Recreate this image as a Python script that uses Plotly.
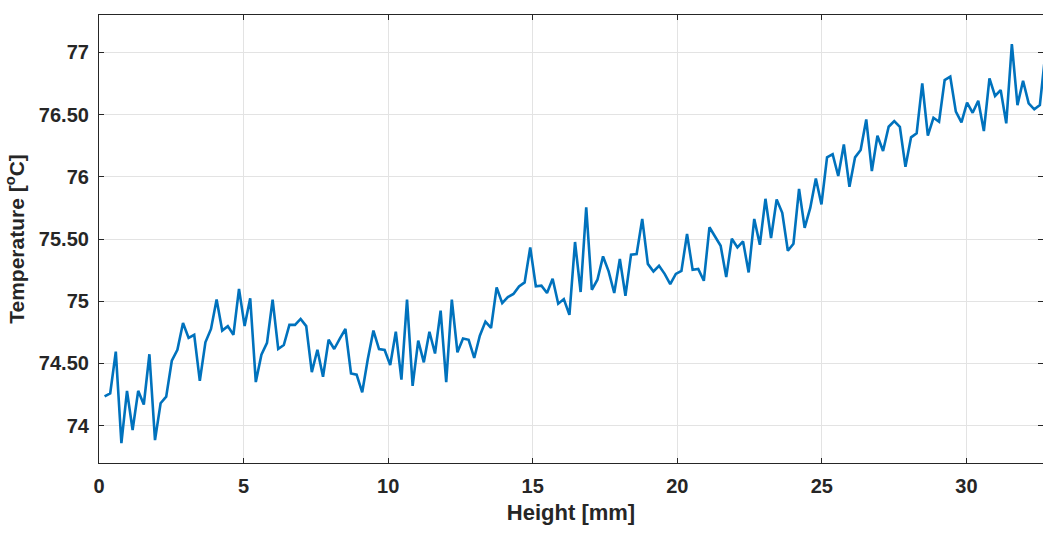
import plotly.graph_objects as go

dx = 0.1937
temperature = [
    74.236, 74.26, 74.595, 73.86, 74.28, 73.965, 74.28, 74.17, 74.574, 73.884,
    74.18, 74.233, 74.522, 74.61, 74.825, 74.705, 74.73, 74.36, 74.67, 74.777,
    75.013, 74.764, 74.80, 74.73, 75.099, 74.80, 75.024, 74.35, 74.57, 74.665,
    75.013, 74.616, 74.648, 74.81, 74.81, 74.858, 74.80, 74.43, 74.61, 74.393,
    74.69, 74.616, 74.70, 74.777, 74.42, 74.41, 74.268, 74.536, 74.764, 74.616,
    74.608, 74.488, 74.755, 74.37, 75.013, 74.32, 74.683, 74.509, 74.755, 74.58,
    74.924, 74.35, 75.013, 74.59, 74.70, 74.69, 74.544, 74.723, 74.836, 74.785,
    75.11, 74.985, 75.033, 75.058, 75.119, 75.151, 75.432, 75.12, 75.125, 75.066,
    75.18, 74.98, 75.017, 74.89, 75.476, 75.074, 75.754, 75.092, 75.173, 75.36,
    75.24, 75.066, 75.339, 75.044, 75.374, 75.379, 75.661, 75.30, 75.239, 75.285,
    75.22, 75.137, 75.22, 75.244, 75.54, 75.252, 75.26, 75.164, 75.594, 75.521,
    75.446, 75.194, 75.502, 75.432, 75.481, 75.231, 75.661, 75.454, 75.823, 75.508,
    75.817, 75.71, 75.406, 75.462, 75.903, 75.589, 75.75, 75.986, 75.778, 76.156,
    76.182, 76.006, 76.26, 75.92, 76.156, 76.215, 76.461, 76.046, 76.33, 76.207,
    76.402, 76.448, 76.402, 76.08, 76.317, 76.349, 76.751, 76.33, 76.474, 76.442,
    76.777, 76.804, 76.523, 76.437, 76.595, 76.514, 76.611, 76.367, 76.791, 76.649,
    76.697, 76.429, 77.067, 76.576, 76.772, 76.59, 76.542, 76.576, 77.0,
]
height = [round((i + 1) * dx, 4) for i in range(len(temperature))]

x_ticks = [0, 5, 10, 15, 20, 25, 30]
y_ticks = [74, 74.5, 75, 75.5, 76, 76.5, 77]
y_ticklabels = ["74", "74.50", "75", "75.50", "76", "76.50", "77"]

FAMILY = "Liberation Sans, Arial, sans-serif"
DARK = "#262626"

fig = go.Figure()
fig.add_trace(go.Scatter(
    x=height, y=temperature, mode="lines",
    line=dict(color="#0072BD", width=2.6),
    showlegend=False, hoverinfo="skip",
))

axis_common = dict(
    showline=True, linecolor=DARK, linewidth=1.2, mirror="ticks",
    ticks="inside", ticklen=5, tickcolor=DARK, tickwidth=1,
    showgrid=True, gridcolor="#e3e3e3", gridwidth=1, zeroline=False,
    tickfont=dict(family=FAMILY, size=20, color=DARK),
    automargin=False,
)

fig.update_layout(
    width=1043, height=534,
    margin=dict(l=99, r=0, t=15, b=71, autoexpand=False),
    paper_bgcolor="white", plot_bgcolor="white",
    font=dict(family=FAMILY, size=20, color=DARK),
    hovermode=False,
    xaxis=dict(
        range=[0, 32.65], tickvals=x_ticks, ticktext=[f"<b>{v}</b>" for v in x_ticks],
        ticklabelstandoff=5,
        title=dict(text="<b>Height [mm]</b>", standoff=8,
                   font=dict(family=FAMILY, size=22, color=DARK)),
        **axis_common,
    ),
    yaxis=dict(
        range=[73.7, 77.3], tickvals=y_ticks, ticktext=[f"<b>{t}</b>" for t in y_ticklabels],
        ticklabelstandoff=5,
        title=dict(text="<b>Temperature [<sup>o</sup>C]</b>", standoff=8,
                   font=dict(family=FAMILY, size=21, color=DARK)),
        **axis_common,
    ),
)

fig.write_html(
    "out.html",
    config={"displayModeBar": False},
    post_script="document.body.style.margin='0';document.body.style.overflow='hidden';",
)
